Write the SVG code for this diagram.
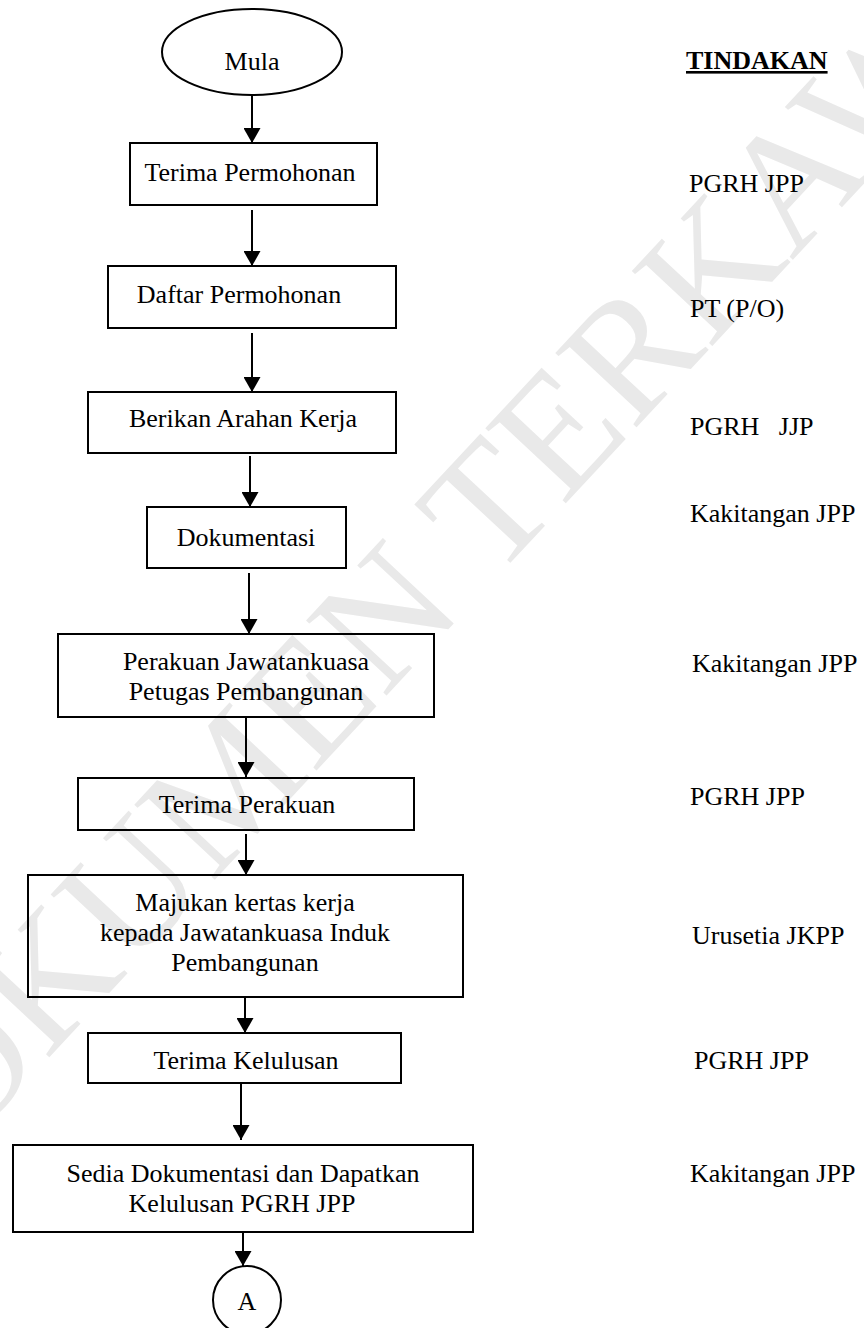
<svg xmlns="http://www.w3.org/2000/svg" width="864" height="1328" viewBox="0 0 864 1328">
<style>
.bg{fill:#ffffff}
.box{fill:none;stroke:#000;stroke-width:2}
.t{font-family:"Liberation Serif","Times New Roman",serif;font-size:26px;fill:#000}
.c{text-anchor:middle}
.b{font-weight:bold;text-decoration:underline}
.wm{font-family:"Liberation Serif","Times New Roman",serif;font-size:168px;fill:#e9e9e9;text-anchor:middle}
.con{stroke:#000;stroke-width:2;fill:none;marker-end:url(#ah)}
</style>
<defs>
<marker id="ah" viewBox="0 0 15 17" refX="15" refY="8.5" markerWidth="15" markerHeight="17" orient="auto" markerUnits="userSpaceOnUse">
<path d="M0,0 L15,8.5 L0,17 Z" fill="#000"/>
</marker>
</defs>
<rect class="bg" x="0" y="0" width="864" height="1328"/>
<g id="watermark">
<text class="wm" transform="translate(497 577) rotate(-47)">DOKUMEN TERKAWAL</text>
</g>
<g id="connectors">
<line class="con" x1="252" y1="95" x2="252" y2="143"/>
<line class="con" x1="252" y1="210" x2="252" y2="266"/>
<line class="con" x1="252" y1="333" x2="252" y2="392"/>
<line class="con" x1="250" y1="456" x2="250" y2="507"/>
<line class="con" x1="249" y1="573" x2="249" y2="634"/>
<line class="con" x1="246" y1="718" x2="246" y2="777"/>
<line class="con" x1="246" y1="834" x2="246" y2="875"/>
<line class="con" x1="245" y1="998" x2="245" y2="1033"/>
<line class="con" x1="241" y1="1084" x2="241" y2="1140"/>
<line class="con" x1="243" y1="1233" x2="243" y2="1266"/>
</g>
<g id="n-mula">
<ellipse class="box" cx="252" cy="52" rx="90" ry="43"/>
<text class="t c" x="252" y="70">Mula</text>
</g>
<g id="n-terima-permohonan">
<rect class="box" x="130" y="143" width="247" height="62"/>
<text class="t c" x="250" y="181">Terima Permohonan</text>
</g>
<g id="n-daftar">
<rect class="box" x="108" y="266" width="288" height="62"/>
<text class="t c" x="239" y="303">Daftar Permohonan</text>
</g>
<g id="n-berikan">
<rect class="box" x="88" y="392" width="308" height="61"/>
<text class="t c" x="243" y="427">Berikan Arahan Kerja</text>
</g>
<g id="n-dokumentasi">
<rect class="box" x="147" y="507" width="199" height="61"/>
<text class="t c" x="246" y="546">Dokumentasi</text>
</g>
<g id="n-perakuan">
<rect class="box" x="58" y="634" width="376" height="83"/>
<text class="t c" x="246" y="670">Perakuan Jawatankuasa</text>
<text class="t c" x="246" y="700">Petugas Pembangunan</text>
</g>
<g id="n-terima-perakuan">
<rect class="box" x="78" y="778" width="336" height="52"/>
<text class="t c" x="247" y="813">Terima Perakuan</text>
</g>
<g id="n-majukan">
<rect class="box" x="28" y="875" width="435" height="122"/>
<text class="t c" x="245" y="911">Majukan kertas kerja</text>
<text class="t c" x="245" y="941">kepada Jawatankuasa Induk</text>
<text class="t c" x="245" y="971">Pembangunan</text>
</g>
<g id="n-terima-kelulusan">
<rect class="box" x="88" y="1033" width="313" height="50"/>
<text class="t c" x="246" y="1069">Terima Kelulusan</text>
</g>
<g id="n-sedia">
<rect class="box" x="13" y="1145" width="460" height="87"/>
<text class="t c" x="243" y="1182">Sedia Dokumentasi dan Dapatkan</text>
<text class="t c" x="242" y="1212">Kelulusan PGRH JPP</text>
</g>
<g id="n-a">
<circle class="box" cx="247" cy="1300" r="34"/>
<text class="t c" x="247" y="1310">A</text>
</g>
<g id="tindakan">
<text class="t b" x="686" y="69">TINDAKAN</text>
<text class="t" x="689" y="192">PGRH JPP</text>
<text class="t" x="690" y="317">PT (P/O)</text>
<text class="t" x="690" y="435" xml:space="preserve">PGRH   JJP</text>
<text class="t" x="690" y="522">Kakitangan JPP</text>
<text class="t" x="692" y="672">Kakitangan JPP</text>
<text class="t" x="690" y="805">PGRH JPP</text>
<text class="t" x="692" y="944">Urusetia JKPP</text>
<text class="t" x="694" y="1069">PGRH JPP</text>
<text class="t" x="690" y="1182">Kakitangan JPP</text>
</g>
</svg>
